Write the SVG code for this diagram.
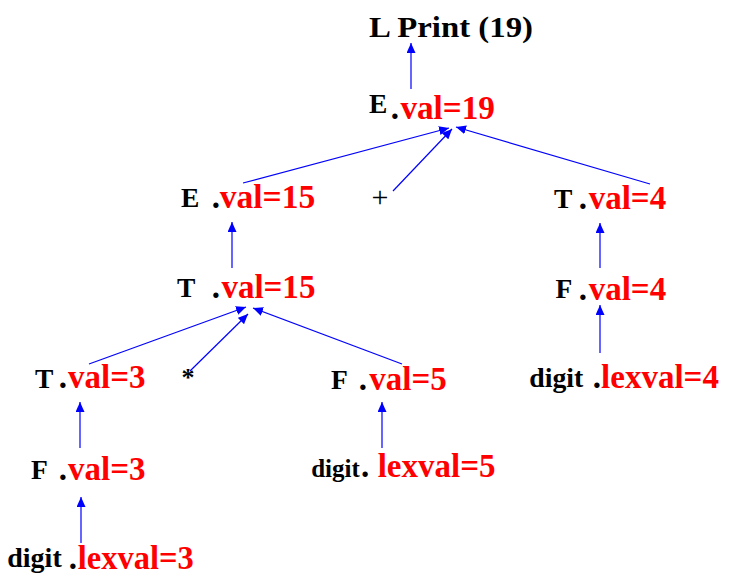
<svg xmlns="http://www.w3.org/2000/svg" width="731" height="582" viewBox="0 0 731 582">
<defs>
<marker id="ah" markerUnits="userSpaceOnUse" markerWidth="10" markerHeight="9" refX="10" refY="4.5" orient="auto">
<path d="M0,0 L10,4.5 L0,9 z" fill="#0000ff"/>
</marker>
<style>
.n{font-family:"Liberation Serif","Times New Roman",serif;font-weight:bold;font-size:27.5px;fill:#000}
.d{font-family:"Liberation Serif","Times New Roman",serif;font-weight:bold;font-size:33px;fill:#000}
.v{font-family:"Liberation Serif","Times New Roman",serif;font-weight:bold;font-size:33px;fill:#ff0000}
.op{font-family:"Liberation Serif","Times New Roman",serif;fill:#000}
.c line{stroke:#0000ff;stroke-width:1.2;marker-end:url(#ah)}
</style>
</defs>
<rect width="731" height="582" fill="#fff"/>
<g id="connectors" class="c">
<line x1="411" y1="89" x2="411" y2="43"/>
<line x1="243" y1="183" x2="449" y2="128"/>
<line x1="393" y1="191" x2="452" y2="129"/>
<line x1="650" y1="184" x2="456" y2="127"/>
<line x1="232" y1="268" x2="232" y2="222"/>
<line x1="600" y1="268" x2="600" y2="223"/>
<line x1="600" y1="353" x2="600" y2="305"/>
<line x1="89" y1="364" x2="246" y2="307"/>
<line x1="190" y1="371" x2="248" y2="314"/>
<line x1="402" y1="364" x2="253" y2="308"/>
<line x1="80" y1="448" x2="80" y2="402"/>
<line x1="81" y1="543" x2="81" y2="497"/>
<line x1="382" y1="448" x2="382" y2="402"/>
</g>
<g id="L">
<text class="n" x="369" y="37" style="font-size:29px" textLength="164" lengthAdjust="spacingAndGlyphs">L Print (19)</text>
</g>
<g id="E_top">
<text class="n" x="369" y="113">E</text>
<text class="d" x="390.7" y="119">.</text>
<text class="v" x="400.4" y="119.3" textLength="94.5" lengthAdjust="spacingAndGlyphs">val=19</text>
</g>
<g id="E_left">
<text class="n" x="181" y="207">E</text>
<text class="d" x="211.7" y="208">.</text>
<text class="v" x="219.7" y="208.3" textLength="95.5" lengthAdjust="spacingAndGlyphs">val=15</text>
</g>
<g id="plus">
<text class="op" x="380" y="207" style="font-size:30px" text-anchor="middle">+</text>
</g>
<g id="T_right">
<text class="n" x="554" y="208">T</text>
<text class="d" x="578.7" y="209">.</text>
<text class="v" x="588.7" y="209">val=4</text>
</g>
<g id="T_mid">
<text class="n" x="177" y="297">T</text>
<text class="d" x="211.7" y="298">.</text>
<text class="v" x="221.4" y="298" textLength="94" lengthAdjust="spacingAndGlyphs">val=15</text>
</g>
<g id="F_right">
<text class="n" x="555.5" y="298">F</text>
<text class="d" x="578.7" y="300">.</text>
<text class="v" x="588.7" y="300">val=4</text>
</g>
<g id="T_left">
<text class="n" x="35" y="388">T</text>
<text class="d" x="58.7" y="388.3">.</text>
<text class="v" x="68" y="388.3">val=3</text>
</g>
<g id="star">
<text class="op" x="188" y="386" style="font-size:26px;font-weight:bold" text-anchor="middle">*</text>
</g>
<g id="F_mid">
<text class="n" x="331" y="388.5">F</text>
<text class="d" x="358.7" y="390">.</text>
<text class="v" x="369.3" y="390">val=5</text>
</g>
<g id="digit_right">
<text class="n" x="529.3" y="387" textLength="54" lengthAdjust="spacingAndGlyphs">digit</text>
<text class="d" x="592.7" y="388.3">.</text>
<text class="v" x="601.1" y="388.3">lexval=4</text>
</g>
<g id="F_left">
<text class="n" x="31" y="478.5">F</text>
<text class="d" x="58.7" y="480">.</text>
<text class="v" x="68" y="480">val=3</text>
</g>
<g id="digit_mid">
<text class="n" x="311.2" y="477" style="font-size:25px">digit</text>
<text class="d" x="361" y="477">.</text>
<text class="v" x="377.7" y="476.7">lexval=5</text>
</g>
<g id="digit_left">
<text class="n" x="7.3" y="567" textLength="54.4" lengthAdjust="spacingAndGlyphs">digit</text>
<text class="d" x="68.7" y="569.3">.</text>
<text class="v" x="77.7" y="569.3" textLength="116" lengthAdjust="spacingAndGlyphs">lexval=3</text>
</g>
</svg>
